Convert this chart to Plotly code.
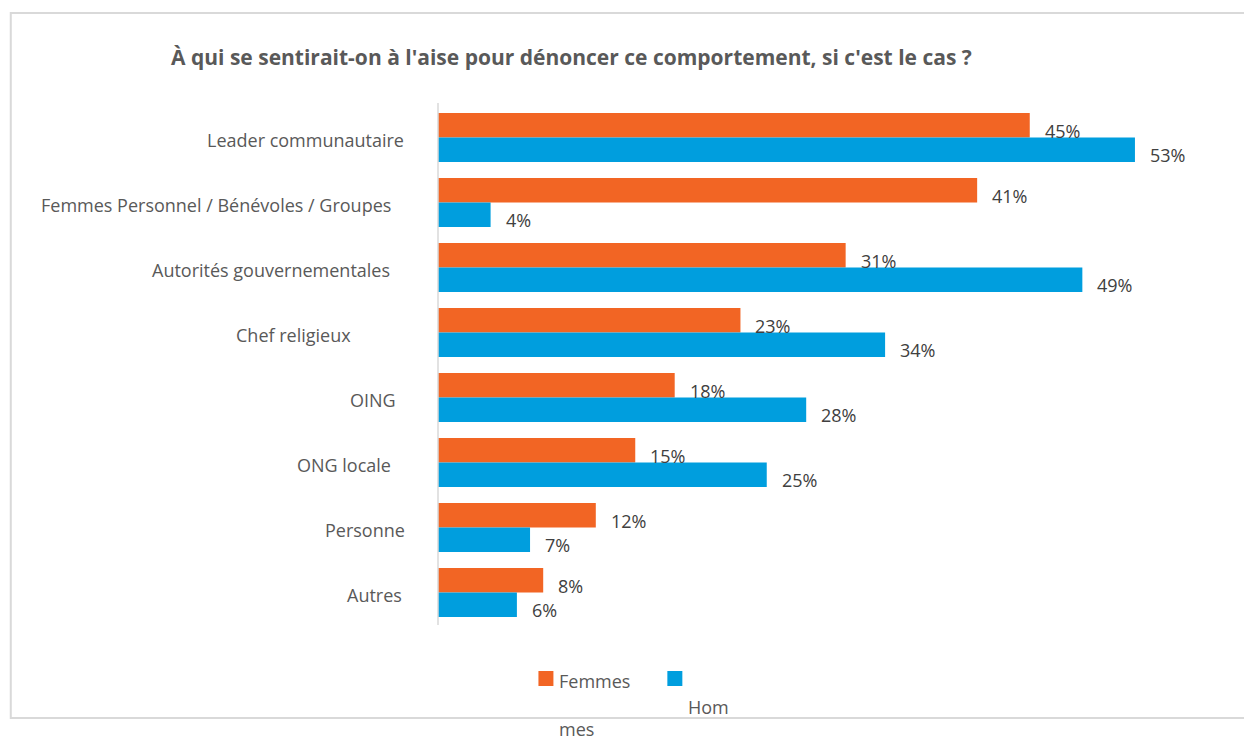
import plotly.graph_objects as go

# Survey responses: who respondents would feel comfortable reporting to
categories = [
    "Leader communautaire",
    "Femmes Personnel / Bénévoles / Groupes",
    "Autorités gouvernementales",
    "Chef religieux",
    "OING",
    "ONG locale",
    "Personne",
    "Autres",
]
femmes = [45, 41, 31, 23, 18, 15, 12, 8]
hommes = [53, 4, 49, 34, 28, 25, 7, 6]

title_text = "À qui se sentirait-on à l'aise pour dénoncer ce comportement, si c'est le cas ?"

ORANGE = "#F26524"
BLUE = "#009EDE"
GREY_TXT = "#595959"
VAL_TXT = "#404040"
FONT = "Open Sans"

W, H = 1244, 743
L, R, T, B = 437.5, 1227, 105, 625


def px(x):
    return (x - L) / (R - L)


def py(y):
    return (B - y) / (B - T)


fig = go.Figure()
fig.add_trace(go.Bar(y=categories, x=femmes, orientation="h", name="Femmes",
                     marker=dict(color=ORANGE, line=dict(width=0)), showlegend=False))
fig.add_trace(go.Bar(y=categories, x=hommes, orientation="h", name="Hommes",
                     marker=dict(color=BLUE, line=dict(width=0)), showlegend=False))

annotations = []

# category labels, right-aligned with slightly ragged ends
label_shift = [-32, -45, -46, -85, -40, -45, -31, -34]
for cat, sh in zip(categories, label_shift):
    annotations.append(dict(x=0, y=cat, xref="x", yref="y", text=cat, showarrow=False,
                            xanchor="right", yanchor="middle", xshift=sh, yshift=-2,
                            font=dict(family=FONT, size=18, color=GREY_TXT)))

# value labels next to each bar
for cat, v in zip(categories, femmes):
    annotations.append(dict(x=v, y=cat, xref="x", yref="y", text=f"{v}%", showarrow=False,
                            xanchor="left", yanchor="middle", xshift=13, yshift=7,
                            font=dict(family=FONT, size=18, color=VAL_TXT)))
for cat, v in zip(categories, hommes):
    annotations.append(dict(x=v, y=cat, xref="x", yref="y", text=f"{v}%", showarrow=False,
                            xanchor="left", yanchor="middle", xshift=13, yshift=-17,
                            font=dict(family=FONT, size=18, color=VAL_TXT)))

# title
annotations.append(dict(x=px(168), y=py(57), xref="paper", yref="paper", text=f"<b>{title_text}</b>",
                        showarrow=False, xanchor="left", yanchor="middle",
                        font=dict(family=FONT, size=21, color=GREY_TXT)))

# legend texts (the second label wraps onto two lines)
legend_font = dict(family=FONT, size=18, color=GREY_TXT)
annotations.append(dict(x=px(557), y=py(681), xref="paper", yref="paper", text="Femmes",
                        showarrow=False, xanchor="left", yanchor="middle", font=legend_font))
annotations.append(dict(x=px(686), y=py(707), xref="paper", yref="paper", text="Hom",
                        showarrow=False, xanchor="left", yanchor="middle", font=legend_font))
annotations.append(dict(x=px(557), y=py(743), xref="paper", yref="paper", text="mes",
                        showarrow=False, xanchor="left", yanchor="bottom", font=legend_font))

shapes = [
    # chart frame
    dict(type="rect", xref="paper", yref="paper", x0=px(10), x1=px(1260), y0=py(13), y1=py(718),
         line=dict(color="#D9D9D9", width=2), fillcolor="rgba(0,0,0,0)", layer="below"),
    # legend swatches
    dict(type="rect", xref="paper", yref="paper", x0=px(538), x1=px(553), y0=py(671), y1=py(686),
         line=dict(width=0), fillcolor=ORANGE),
    dict(type="rect", xref="paper", yref="paper", x0=px(667), x1=px(682), y0=py(671), y1=py(686),
         line=dict(width=0), fillcolor=BLUE),
    # vertical category axis line
    dict(type="line", xref="paper", yref="paper", x0=0, x1=0, y0=py(625), y1=py(103),
         line=dict(color="#D9D9D9", width=1.5)),
]

fig.update_layout(
    width=W, height=H,
    margin=dict(l=L, r=W - R, t=T, b=H - B),
    paper_bgcolor="white", plot_bgcolor="white",
    barmode="group", bargap=0.246, bargroupgap=0,
    xaxis=dict(range=[0, 60], visible=False, showgrid=False, zeroline=False, fixedrange=True),
    yaxis=dict(autorange="reversed", showticklabels=False, showgrid=False, zeroline=False,
               showline=False, ticks=""),
    annotations=annotations,
    shapes=shapes,
    font=dict(family=FONT),
)

fig.write_html("out.html", config={"displayModeBar": False})
